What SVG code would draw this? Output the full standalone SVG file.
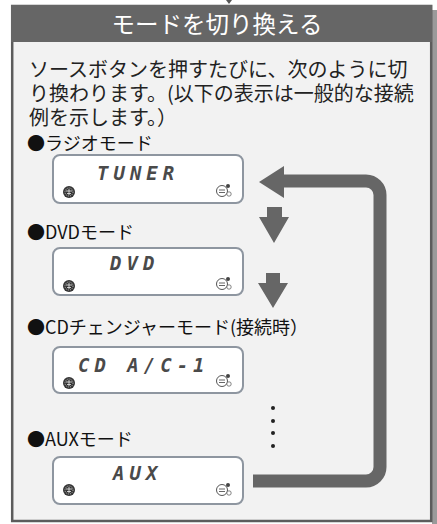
<svg xmlns="http://www.w3.org/2000/svg" width="437" height="524" viewBox="0 0 437 524">
<style>
.title{font-family:"Noto Sans CJK JP","Noto Sans",sans-serif;font-size:23.5px;fill:#fff;text-anchor:middle}
.body{font-family:"Noto Sans CJK JP","Noto Sans",sans-serif;font-size:20px;fill:#222}
.lbl{font-family:"Noto Sans CJK JP","Noto Sans",sans-serif;font-size:18px;fill:#111}
.lcd{font-family:"DejaVu Sans Mono","Liberation Mono",monospace;font-size:19px;font-weight:bold;font-style:italic;fill:#4a4a4a;letter-spacing:5px}
.disp{fill:#fff;stroke:#8e96a0;stroke-width:2}
.arr{fill:#666}
</style>
<defs>
<g id="iconL">
<circle r="6" fill="#333"/>
<circle r="4" fill="none" stroke="#ddd" stroke-width="0.8" stroke-dasharray="1 1"/>
<path d="M-3 -1H3M-2 1.5H2M0 -3V3" stroke="#eee" stroke-width="0.8"/>
</g>
<g id="iconR">
<circle r="5.5" fill="#fff" stroke="#555" stroke-width="1"/>
<path d="M-3 -1H3M-3 1.5H3" stroke="#555" stroke-width="0.9"/>
<circle cx="6" cy="-5" r="2" fill="#444"/>
<circle cx="7" cy="3" r="2.2" fill="#fff" stroke="#666" stroke-width="0.8"/>
</g>
</defs>
<rect x="432" y="10" width="5" height="514" fill="#9a9a9a"/>
<rect x="12.2" y="6" width="419" height="515" fill="#f2f2f2" stroke="#5c5c5c" stroke-width="2.5"/>
<g id="header">
<rect x="11" y="5" width="421" height="37" fill="#666"/>
<text class="title" x="217" y="33">モードを切り換える</text>
</g>
<polygon points="226,0 232,0 229,4" fill="#555"/>
<g id="intro">
<text class="body"><tspan x="29" y="77">ソースボタンを押すたびに、次のように切</tspan><tspan x="29" y="101">り換わります。(以下の表示は一般的な接続</tspan><tspan x="29" y="125">例を示します。）</tspan></text>
</g>
<g id="radio">
<text class="lbl" x="27" y="150">●ラジオモード</text>
<rect class="disp" x="53" y="155" width="190" height="48" rx="7"/>
<text class="lcd" x="97" y="180">TUNER</text>
<use href="#iconL" x="69" y="192"/>
<use href="#iconR" x="222" y="191"/>
</g>
<g id="dvd">
<text class="lbl" x="27" y="239">●DVDモード</text>
<rect class="disp" x="53" y="248" width="190" height="47" rx="7"/>
<text class="lcd" x="110" y="270">DVD</text>
<use href="#iconL" x="69" y="286"/>
<use href="#iconR" x="222" y="284"/>
</g>
<g id="cd">
<text class="lbl" x="27" y="334">●CDチェンジャーモード(接続時）</text>
<rect class="disp" x="53" y="347" width="190" height="46" rx="7"/>
<text class="lcd" x="78" y="372">CD  A/C-1</text>
<use href="#iconL" x="69" y="383"/>
<use href="#iconR" x="222" y="381"/>
</g>
<g id="aux">
<text class="lbl" x="27" y="446">●AUXモード</text>
<rect class="disp" x="53" y="457" width="190" height="47" rx="7"/>
<text class="lcd" x="113" y="480">AUX</text>
<use href="#iconL" x="69" y="490"/>
<use href="#iconR" x="222" y="490"/>
</g>
<g id="connectors">
<path class="arr" d="M267 207H282V217H289L274 243L259 217H267Z"/>
<path class="arr" d="M266 273H280V283H288L273 308L258 283H266Z"/>
<g fill="#222">
<circle cx="273" cy="408" r="2"/>
<circle cx="273" cy="421" r="2"/>
<circle cx="273" cy="433" r="2"/>
<circle cx="273" cy="446" r="2"/>
</g>
<path d="M253 481H366A14 14 0 0 0 380 467V195A14 14 0 0 0 366 181H282" fill="none" stroke="#666" stroke-width="13"/>
<polygon class="arr" points="259,182 284,166 284,198"/>
</g>
</svg>
